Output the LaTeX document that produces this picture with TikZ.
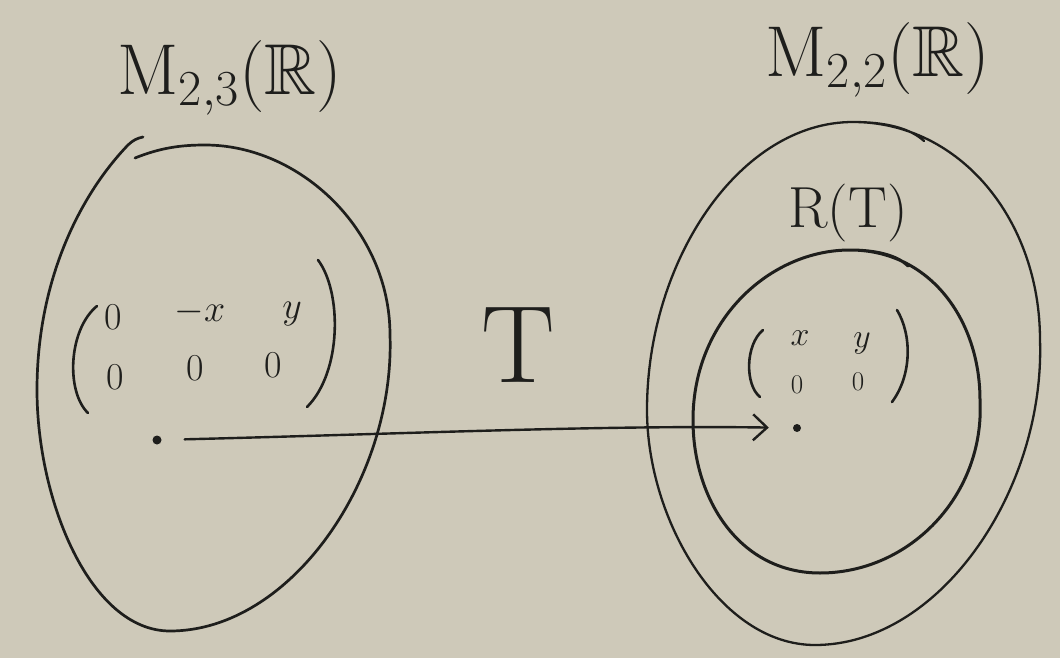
\RequirePackage{fix-cm}
\documentclass[tikz,border=0pt]{standalone}
\usepackage{amssymb}
\usetikzlibrary{arrows.meta}
\definecolor{paper}{RGB}{206,201,185}
\definecolor{ink}{RGB}{30,30,28}
\begin{document}
\begin{tikzpicture}[x=1pt,y=-1pt,
  stroke/.style={draw=ink, line cap=round, line join=round},
  lbl/.style={text=ink, inner sep=0pt},
  bigfont/.style={font=\fontsize{72}{80}\selectfont},
  midfont/.style={font=\fontsize{38}{44}\selectfont},
  smallfont/.style={font=\fontsize{34}{40}\selectfont},
  tinyfont/.style={font=\fontsize{27}{32}\selectfont},
  dotst/.style={circle, fill=ink, inner sep=0pt, minimum size=9pt}]
\fill[paper] (0,0) rectangle (1060,658);
\useasboundingbox (0,0) rectangle (1060,658);

% left set (blob)
\draw[stroke, line width=2.7pt]
  (135,158) .. controls (160,148) and (180,145) .. (205,145)
  .. controls (300,145) and (390,230) .. (390,335)
  .. controls (395,480) and (290,631) .. (170,631)
  .. controls (90,631) and (37,500) .. (37,390)
  .. controls (37,280) and (80,195) .. (128,145)
  .. controls (133,140) and (138,138) .. (143,137);

% right outer set
\draw[stroke, line width=2.3pt]
  (853,122) .. controls (960,122) and (1040,220) .. (1040,340)
  .. controls (1045,490) and (940,645) .. (815,645)
  .. controls (720,645) and (647,520) .. (647,410)
  .. controls (647,260) and (740,122) .. (853,122)
  .. controls (885,122) and (910,128) .. (924,141);

% inner set (range)
\draw[stroke, line width=3pt]
  (850,250) .. controls (930,250) and (980,320) .. (980,400)
  .. controls (985,495) and (910,573) .. (820,573)
  .. controls (740,573) and (693,500) .. (693,420)
  .. controls (693,320) and (770,250) .. (850,250)
  .. controls (875,250) and (897,255) .. (908,266);

% labels
\node[lbl, bigfont] (ldom) at (230,78) {$\mathrm{M}_{2,3}(\mathbb{R})$};
\node[lbl, bigfont] (rcod) at (878,60) {$\mathrm{M}_{2,2}(\mathbb{R})$};
\node[lbl, font=\fontsize{58}{64}\selectfont] (range) at (848,213) {R(T)};
\node[lbl, font=\fontsize{110}{120}\selectfont] (tmap) at (518,345) {T};

% left matrix
\node[lbl, midfont] (a11) at (113,317) {0};
\node[lbl, midfont] (a12) at (200,312) {$-x$};
\node[lbl, midfont] (a13) at (292,314) {$y$};
\node[lbl, midfont] (a21) at (115,377) {0};
\node[lbl, midfont] (a22) at (195,368) {0};
\node[lbl, midfont] (a23) at (273,365) {0};
\draw[stroke, line width=2.6pt] (97,306) .. controls (68,330) and (66,392) .. (88,413);
\draw[stroke, line width=2.6pt] (318,260) .. controls (342,292) and (342,372) .. (307,407);

% right matrix
\node[lbl, smallfont] (b11) at (800,338) {$x$};
\node[lbl, smallfont] (b12) at (862,343) {$y$};
\node[lbl, tinyfont] (b21) at (797,385) {0};
\node[lbl, tinyfont] (b22) at (858,382) {0};
\draw[stroke, line width=2.6pt] (763,330) .. controls (745,345) and (745,385) .. (760,397);
\draw[stroke, line width=2.6pt] (897,310) .. controls (912,335) and (912,375) .. (892,402);

% points and map arrow
\node[dotst] (pl) at (157,440) {};
\node[dotst, minimum size=8pt] (pr) at (797,428) {};
\draw[stroke, line width=2.4pt, -{Straight Barb[length=14pt, width=26pt]},
  shorten <=23pt, shorten >=24pt] (pl) .. controls (400,434) and (600,425) .. (pr);
\end{tikzpicture}
\end{document}
